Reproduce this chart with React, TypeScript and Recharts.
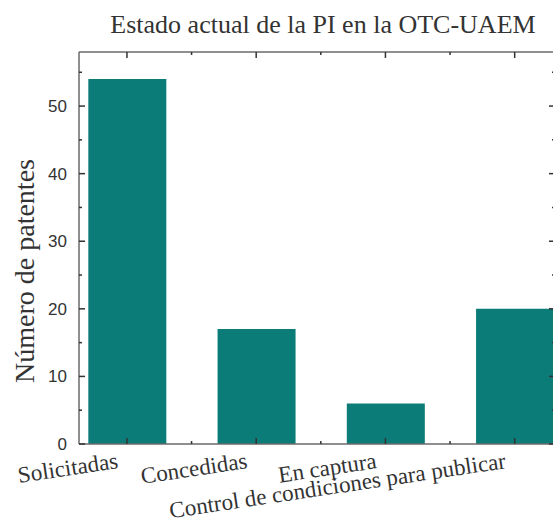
import { BarChart, Bar, XAxis, YAxis, CartesianGrid, Label } from 'recharts'

const categories = ['Solicitadas', 'Concedidas', 'En captura', 'Control de condiciones para publicar']
const positions = [1, 2, 3, 4]
const patentes = [54, 17, 6, 20]
const xTicks = [1, 1.5, 2, 2.5, 3, 3.5, 4]
const xMajor = [1, 2, 3, 4]
const xMinor = [1.5, 2.5, 3.5]
const yTicks = [0, 5, 10, 15, 20, 25, 30, 35, 40, 45, 50, 55]
const xDomain = [0.629, 4.312]
const yMax = 58
const title = 'Estado actual de la PI en la OTC-UAEM'
const yTitle = 'Número de patentes'

const data = positions.map((x, i) => ({ x, name: categories[i], value: patentes[i] }))

const serif = '"Liberation Serif", "Times New Roman", serif'
const sans = '"Liberation Sans", Arial, sans-serif'
const ink = '#333'
const axisStroke = '#6a6a6a'

const BottomTick = ({ x, y, payload }: any) => {
  const v = payload.value
  const major = Number.isInteger(v)
  const lx = x - 8
  const ly = y + 24
  return (
    <g>
      <line x1={x} y1={y} x2={x} y2={y - (major ? 6 : 3)} stroke={ink} strokeWidth={1.5} />
      {major && (
        <text
          x={lx}
          y={ly}
          transform={`rotate(-8.5 ${lx} ${ly})`}
          textAnchor="end"
          fontFamily={serif}
          fontSize={23}
          fill={ink}
        >
          {categories[v - 1]}
        </text>
      )}
    </g>
  )
}

const LeftTick = ({ x, y, payload }: any) => {
  const v = payload.value
  const major = v % 10 === 0
  return (
    <g>
      <line x1={x} y1={y} x2={x + (major ? 6 : 3)} y2={y} stroke={ink} strokeWidth={1.5} />
      {major && (
        <text x={x - 12} y={y} dy={6} textAnchor="end" fontFamily={sans} fontSize={17} fill={ink}>
          {v}
        </text>
      )}
    </g>
  )
}

const RightTick = ({ x, y, payload }: any) => {
  const major = payload.value % 10 === 0
  return <line x1={x} y1={y} x2={x - (major ? 6 : 3)} y2={y} stroke={ink} strokeWidth={1.5} />
}

// title + rotated y title, drawn inside the chart svg
const Titles = () => (
  <g>
    <text x={323} y={33} textAnchor="middle" fontFamily={serif} fontSize={26} fill={ink}>
      {title}
    </text>
    <text
      x={34}
      y={271}
      transform="rotate(-90 34 271)"
      textAnchor="middle"
      fontFamily={serif}
      fontSize={28}
      fill={ink}
    >
      {yTitle}
    </text>
  </g>
)

// x positions of the top-frame ticks, from the x axis scale when available
const topTickCoords = (values: number[]) => ({ xAxis, offset }: any) =>
  values.map((t) =>
    xAxis && typeof xAxis.scale === 'function'
      ? xAxis.scale(t)
      : offset.left + ((t - xDomain[0]) / (xDomain[1] - xDomain[0])) * offset.width
  )

export default function App() {
  return (
    <div
      style={{
        position: 'absolute', left: 0, top: 0, width: 553, height: 529,
        overflow: 'hidden', background: '#fff',
      }}
    >
      <BarChart width={560} height={529} data={data} margin={{ top: 52, right: 4, bottom: 0, left: 0 }}>
        {/* top frame line */}
        <CartesianGrid
          vertical={false}
          horizontalCoordinatesGenerator={({ offset }: any) => [offset.top]}
          stroke={axisStroke}
          strokeWidth={1.5}
        />
        {/* inward ticks hanging from the top frame */}
        <CartesianGrid
          horizontal={false}
          verticalCoordinatesGenerator={topTickCoords(xMajor)}
          stroke={ink}
          strokeWidth={1.5}
          strokeDasharray="6 2000"
        />
        <CartesianGrid
          horizontal={false}
          verticalCoordinatesGenerator={topTickCoords(xMinor)}
          stroke={ink}
          strokeWidth={1.5}
          strokeDasharray="3 2000"
        />
        <Bar dataKey="value" fill="#0b7c78" barSize={78} isAnimationActive={false} />
        <XAxis
          dataKey="x"
          type="number"
          domain={xDomain}
          allowDataOverflow
          ticks={xTicks}
          interval={0}
          height={85}
          tickSize={0}
          tickMargin={0}
          tickLine={false}
          axisLine={{ stroke: axisStroke, strokeWidth: 1.5 }}
          tick={<BottomTick />}
        />
        <YAxis
          type="number"
          domain={[0, yMax]}
          allowDataOverflow
          ticks={yTicks}
          interval={0}
          width={79}
          tickSize={0}
          tickMargin={0}
          tickLine={false}
          axisLine={{ stroke: axisStroke, strokeWidth: 1.5 }}
          tick={<LeftTick />}
        >
          <Label content={<Titles />} />
        </YAxis>
        <YAxis
          yAxisId="right"
          orientation="right"
          type="number"
          domain={[0, yMax]}
          allowDataOverflow
          ticks={yTicks}
          interval={0}
          width={1}
          tickSize={0}
          tickMargin={0}
          tickLine={false}
          axisLine={{ stroke: axisStroke, strokeWidth: 1.5 }}
          tick={<RightTick />}
        />
      </BarChart>
    </div>
  )
}
